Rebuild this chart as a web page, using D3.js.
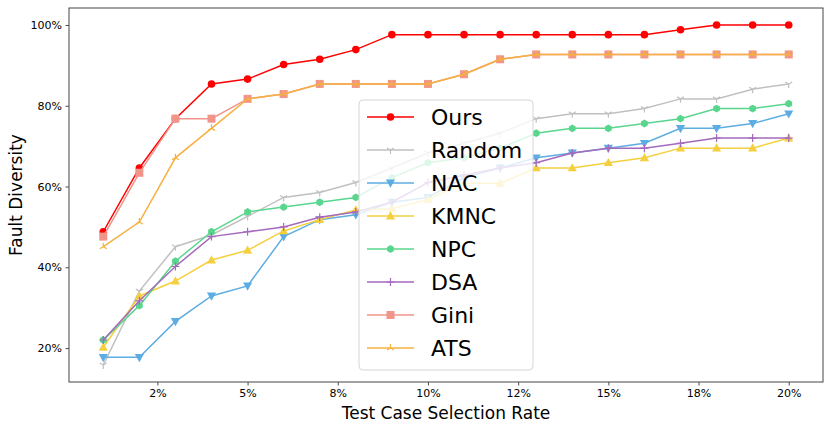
<!DOCTYPE html>
<html>
<head>
<meta charset="utf-8">
<script src="https://cdn.jsdelivr.net/npm/d3@7"></script>
<style>
body { margin: 0; background: #fff; }
text { font-family: "DejaVu Sans", sans-serif; }
</style>
</head>
<body>
<div id="chart"></div>
<script>
var rates = d3.range(1, 21)
var tickVals = [2.5, 5, 7.5, 10, 12.5, 15, 17.5, 20]
var tickLabels = ["2%", "5%", "8%", "10%", "12%", "15%", "18%", "20%"]
var yTicks = [20, 40, 60, 80, 100]

var ours   = [48.8, 64.6, 76.8, 85.4, 86.6, 90.2, 91.5, 93.9, 97.6, 97.6, 97.6, 97.6, 97.6, 97.6, 97.6, 97.6, 98.8, 100, 100, 100]
var random = [15.8, 34.1, 45.1, 48.0, 52.6, 57.3, 58.5, 61.0, 64.6, 68.3, 70.7, 73.2, 76.8, 78.0, 78.0, 79.3, 81.7, 81.7, 84.1, 85.4]
var nac    = [17.7, 17.7, 26.6, 32.9, 35.4, 47.6, 51.8, 53.0, 56.1, 57.3, 62.2, 64.6, 67.1, 68.3, 69.5, 70.7, 74.4, 74.4, 75.6, 78.0]
var kmnc   = [20.2, 32.9, 36.6, 41.8, 44.2, 49.0, 51.8, 54.2, 54.5, 56.8, 60.8, 60.8, 64.6, 64.6, 65.9, 67.1, 69.5, 69.5, 69.5, 72.0]
var npc    = [22.0, 30.5, 41.5, 48.8, 53.7, 54.9, 56.1, 57.3, 62.2, 65.9, 67.1, 69.5, 73.2, 74.4, 74.4, 75.6, 76.8, 79.3, 79.3, 80.5]
var dsa    = [22.0, 31.7, 40.2, 47.6, 48.8, 50.0, 52.4, 53.7, 56.1, 61.0, 62.8, 64.6, 65.9, 68.3, 69.5, 69.5, 70.7, 72.0, 72.0, 72.0]
var gini   = [47.6, 63.4, 76.8, 76.8, 81.7, 82.9, 85.4, 85.4, 85.4, 85.4, 87.8, 91.5, 92.7, 92.7, 92.7, 92.7, 92.7, 92.7, 92.7, 92.7]
var ats    = [45.1, 51.2, 67.1, 74.4, 81.7, 82.9, 85.4, 85.4, 85.4, 85.4, 87.8, 91.5, 92.7, 92.7, 92.7, 92.7, 92.7, 92.7, 92.7, 92.7]

var series = [
	{name: "Ours",   values: ours,   color: "#ff0000", marker: "circle"},
	{name: "Random", values: random, color: "#c0c0c0", marker: "tridown"},
	{name: "NAC",    values: nac,    color: "#5dade2", marker: "trianglev"},
	{name: "KMNC",   values: kmnc,   color: "#f4d03f", marker: "triangle"},
	{name: "NPC",    values: npc,    color: "#58d68d", marker: "hexagon"},
	{name: "DSA",    values: dsa,    color: "#a569bd", marker: "plus"},
	{name: "Gini",   values: gini,   color: "#f1948a", marker: "square"},
	{name: "ATS",    values: ats,    color: "#f5b041", marker: "triup"}
]

var W = 831, H = 430
var margin = {top: 8, right: 8, bottom: 48, left: 69},
	width = W - margin.left - margin.right,
	height = H - margin.top - margin.bottom;

var svg = d3.select("#chart")
	.append("svg")
	.attr("width", W)
	.attr("height", H)

var canvas = svg.append("g")
	.attr("transform", "translate(" + margin.left + "," + margin.top + ")")

var x = d3.scaleLinear().domain([0.05, 20.95]).range([0, width])
var y = d3.scaleLinear().domain([11.6, 104.2]).range([height, 0])

// axes
var xAxis = canvas.append("g")
	.attr("transform", "translate(0," + height + ")")
	.call(d3.axisBottom(x).tickValues(tickVals).tickFormat((d, i) => tickLabels[i]).tickSize(3.5).tickPadding(3.5))
var yAxis = canvas.append("g")
	.call(d3.axisLeft(y).tickValues(yTicks).tickFormat(d => d + "%").tickSize(3.5).tickPadding(3.5))

;[xAxis, yAxis].forEach(a => {
	a.select(".domain").remove()
	a.selectAll("line").attr("stroke", "#222").attr("stroke-width", 0.8)
	a.selectAll("text").style("font-size", "11px").attr("fill", "#000")
})

canvas.append("rect")
	.attr("width", width).attr("height", height)
	.attr("fill", "none").attr("stroke", "#444").attr("stroke-width", 1)

svg.append("text")
	.attr("x", margin.left + width / 2).attr("y", 419)
	.attr("text-anchor", "middle").style("font-size", "17px")
	.text("Test Case Selection Rate")
svg.append("text")
	.attr("transform", "translate(22," + (margin.top + height / 2) + ")rotate(-90)")
	.attr("text-anchor", "middle").style("font-size", "17px")
	.text("Fault Diversity")

function drawMarker(g, type, color) {
	if (type == "circle") {
		g.append("circle").attr("r", 3.8).attr("fill", color)
	} else if (type == "square") {
		g.append("rect").attr("x", -4).attr("y", -4).attr("width", 8).attr("height", 8).attr("fill", color)
	} else if (type == "triangle") {
		g.append("path").attr("d", "M0,-4.8L4.6,3.4L-4.6,3.4Z").attr("fill", color)
	} else if (type == "trianglev") {
		g.append("path").attr("d", "M0,4.8L4.6,-3.4L-4.6,-3.4Z").attr("fill", color)
	} else if (type == "hexagon") {
		g.append("path").attr("d", d3.range(6).map((i) => {
			var a = Math.PI / 2 + i * Math.PI / 3
			return (i ? "L" : "M") + (3.9 * Math.cos(a)).toFixed(2) + "," + (3.9 * Math.sin(a)).toFixed(2)
		}).join("") + "Z").attr("fill", color)
	} else if (type == "plus") {
		g.append("path").attr("d", "M0,-4V4M-4,0H4").attr("stroke", color).attr("stroke-width", 1.2)
	} else if (type == "tridown") {
		g.append("path").attr("d", "M0,0V4M0,0L-3.5,-2M0,0L3.5,-2").attr("stroke", color).attr("stroke-width", 1.2)
	} else if (type == "triup") {
		g.append("path").attr("d", "M0,0V-4M0,0L-3.5,2M0,0L3.5,2").attr("stroke", color).attr("stroke-width", 1.2)
	}
}

var line = d3.line().x((d, i) => x(rates[i])).y(d => y(d))

series.forEach(s => {
	var g = canvas.append("g")
	g.append("path")
		.datum(s.values)
		.attr("d", line)
		.attr("fill", "none")
		.attr("stroke", s.color)
		.attr("stroke-width", 1.5)
	g.selectAll(".pt")
		.data(s.values)
		.enter()
		.append("g")
		.attr("transform", (d, i) => "translate(" + x(rates[i]) + "," + y(d) + ")")
		.each(function(d) { drawMarker(d3.select(this), s.marker, s.color) })
})

// legend
var legend = svg.append("g").attr("transform", "translate(359,100)")
legend.append("rect")
	.attr("width", 174).attr("height", 270)
	.attr("rx", 4).attr("ry", 4)
	.attr("fill", "#fff").attr("fill-opacity", 0.8)
	.attr("stroke", "#d6d6d6").attr("stroke-width", 1)

series.forEach((s, i) => {
	var row = legend.append("g").attr("transform", "translate(0," + (17 + i * 33) + ")")
	row.append("line")
		.attr("x1", 8).attr("x2", 55)
		.attr("stroke", s.color).attr("stroke-width", 1.5)
	drawMarker(row.append("g").attr("transform", "translate(31.5,0)"), s.marker, s.color)
	row.append("text")
		.attr("x", 72).attr("y", 8)
		.style("font-size", "22px")
		.text(s.name)
})
</script>
</body>
</html>
